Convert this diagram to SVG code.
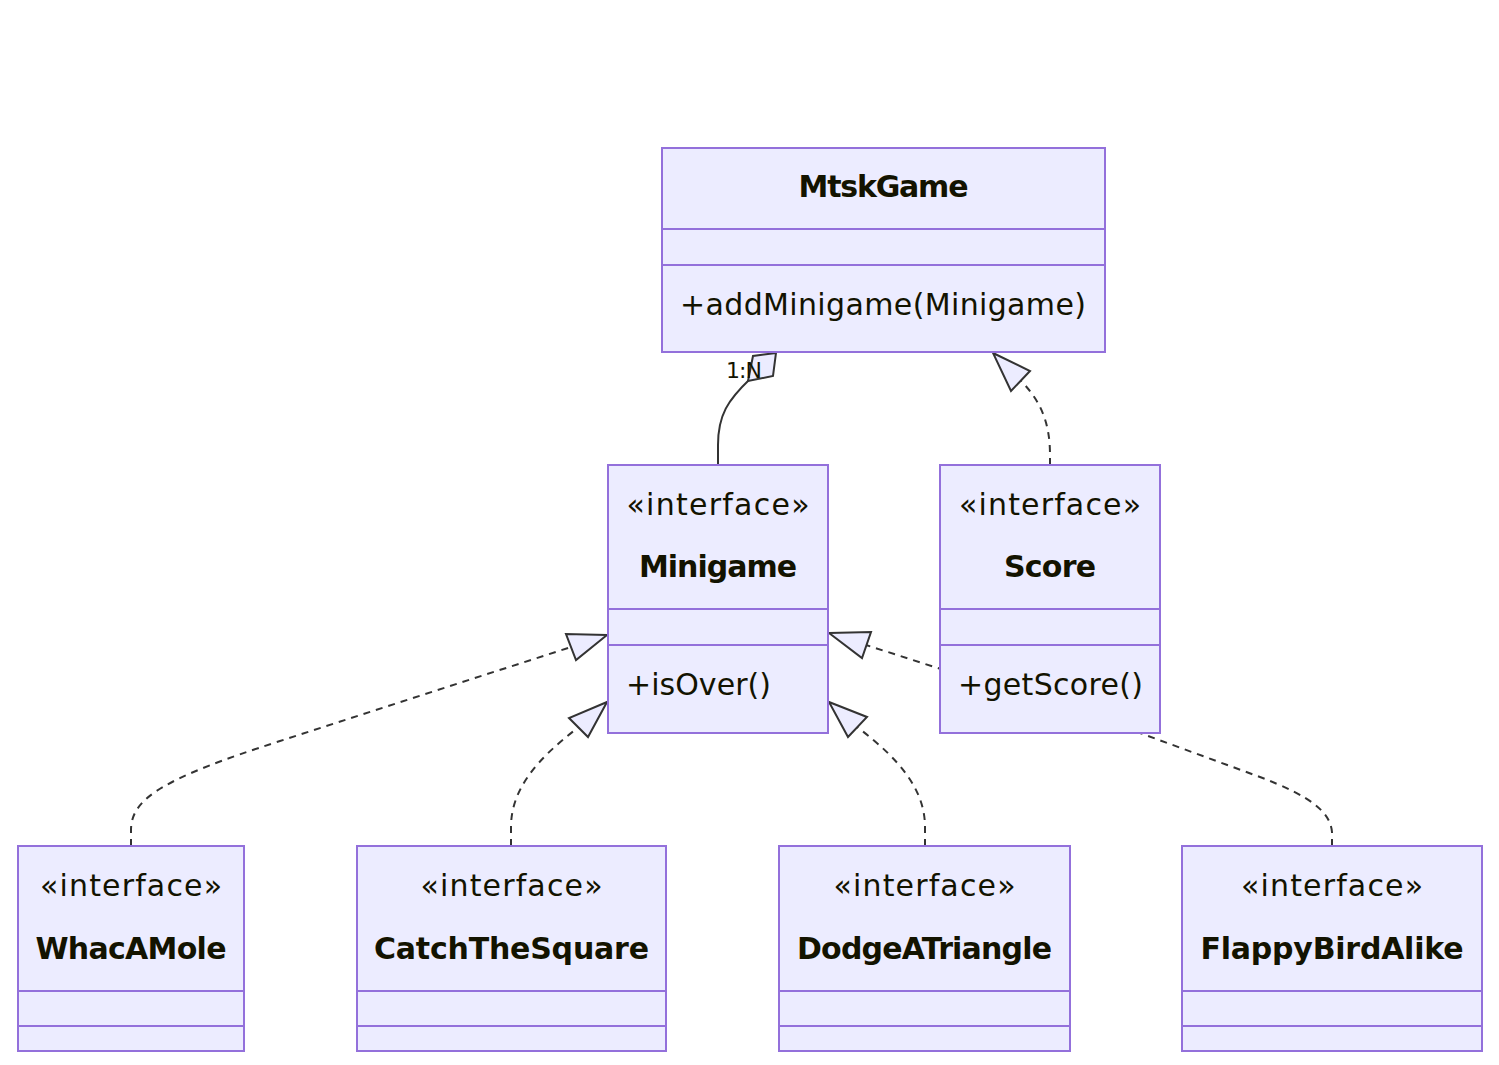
<svg xmlns="http://www.w3.org/2000/svg" width="1499" height="1065" viewBox="0 0 1499 1065">
<style>
.box{fill:#ECECFF;stroke:#9370DB;stroke-width:2}
.div{stroke:#9370DB;stroke-width:2;fill:none}
.edge{fill:none;stroke:#333333;stroke-width:2}
.dash{stroke-dasharray:7 6}
.head{fill:#ECECFF;stroke:#333333;stroke-width:2;stroke-linejoin:miter}
text{font-family:"DejaVu Sans","Liberation Sans",sans-serif;font-size:30px;fill:#131300}
.b{font-weight:bold}
.c{text-anchor:middle}
.lbl{font-size:22px}
</style>
<rect width="1499" height="1065" fill="#ffffff"/>
<g id="connectors">
  <path class="edge" d="M718,465 L718,445 C718,415 728,400 750,379"/>
  <polygon class="head" points="776,353 753,356 748,381 773,376"/>
  <text class="lbl" x="726" y="378" textLength="36">1:N</text>
  <path class="edge dash" d="M1050,465 L1050,455 C1050,425 1042,402 1021,381"/>
  <polygon class="head" points="993,353 1030,371 1011,391"/>
  <path class="edge dash" d="M131,846 L131,830 C131,798 165,778 280,741 L571,647"/>
  <polygon class="head" points="607,635 566,634 576,660"/>
  <path class="edge dash" d="M511,846 L511,825 C512,790 535,760 579,727"/>
  <polygon class="head" points="607,702 569,718 588,737"/>
  <path class="edge dash" d="M925,846 L925,825 C924,790 901,760 857,727"/>
  <polygon class="head" points="829,702 867,717 848,737"/>
  <path class="edge dash" d="M1332,846 L1332,832 C1330,812 1312,797 1260,777 L1140,733 L866,645"/>
  <polygon class="head" points="829,633 871,632 862,658"/>
</g>
<g id="MtskGame">
  <rect class="box" x="662" y="148" width="443" height="204"/>
  <line class="div" x1="662" y1="229" x2="1105" y2="229"/>
  <line class="div" x1="662" y1="265" x2="1105" y2="265"/>
  <text class="b c" x="883.5" y="197" textLength="170">MtskGame</text>
  <text x="680" y="315" textLength="406">+addMinigame(Minigame)</text>
</g>
<g id="Minigame">
  <rect class="box" x="608" y="465" width="220" height="268"/>
  <line class="div" x1="608" y1="609" x2="828" y2="609"/>
  <line class="div" x1="608" y1="645" x2="828" y2="645"/>
  <text class="c" x="718" y="515" textLength="183">«interface»</text>
  <text class="b c" x="718" y="577" textLength="158">Minigame</text>
  <text x="626" y="695" textLength="145">+isOver()</text>
</g>
<g id="Score">
  <rect class="box" x="940" y="465" width="220" height="268"/>
  <line class="div" x1="940" y1="609" x2="1160" y2="609"/>
  <line class="div" x1="940" y1="645" x2="1160" y2="645"/>
  <text class="c" x="1050" y="515" textLength="182">«interface»</text>
  <text class="b c" x="1050" y="577" textLength="92">Score</text>
  <text x="958" y="695" textLength="185">+getScore()</text>
</g>
<g id="WhacAMole">
  <rect class="box" x="18" y="846" width="226" height="205"/>
  <line class="div" x1="18" y1="991" x2="244" y2="991"/>
  <line class="div" x1="18" y1="1026" x2="244" y2="1026"/>
  <text class="c" x="131" y="896" textLength="182">«interface»</text>
  <text class="b c" x="131" y="959" textLength="191">WhacAMole</text>
</g>
<g id="CatchTheSquare">
  <rect class="box" x="357" y="846" width="309" height="205"/>
  <line class="div" x1="357" y1="991" x2="666" y2="991"/>
  <line class="div" x1="357" y1="1026" x2="666" y2="1026"/>
  <text class="c" x="511.5" y="896" textLength="182">«interface»</text>
  <text class="b c" x="511.5" y="959" textLength="275">CatchTheSquare</text>
</g>
<g id="DodgeATriangle">
  <rect class="box" x="779" y="846" width="291" height="205"/>
  <line class="div" x1="779" y1="991" x2="1070" y2="991"/>
  <line class="div" x1="779" y1="1026" x2="1070" y2="1026"/>
  <text class="c" x="924.5" y="896" textLength="182">«interface»</text>
  <text class="b c" x="924.5" y="959" textLength="255">DodgeATriangle</text>
</g>
<g id="FlappyBirdAlike">
  <rect class="box" x="1182" y="846" width="300" height="205"/>
  <line class="div" x1="1182" y1="991" x2="1482" y2="991"/>
  <line class="div" x1="1182" y1="1026" x2="1482" y2="1026"/>
  <text class="c" x="1332" y="896" textLength="182">«interface»</text>
  <text class="b c" x="1332" y="959" textLength="263">FlappyBirdAlike</text>
</g>
</svg>
